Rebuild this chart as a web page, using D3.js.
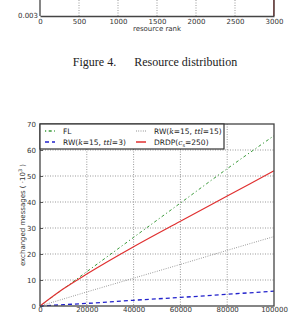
<!DOCTYPE html>
<meta charset="utf-8">
<head>
<style>
body { margin: 0; background: #fff; }
svg { display: block; }
.tick text, .lbl { font-family: "DejaVu Sans", sans-serif; font-size: 7px; fill: #333; }
.grid line { stroke: #555; stroke-width: .6; stroke-dasharray: 1,1.5; }
.caption { font-family: "Liberation Serif", serif; font-size: 12px; fill: #222; }
.leg { font-family: "DejaVu Sans", sans-serif; font-size: 7.5px; fill: #222; }
</style>
</head>
<body>
<svg width="306" height="312"></svg>
<script src="https://cdn.jsdelivr.net/npm/d3@7"></script>
<script>

// tail of previous figure
var rankTicks = [0, 500, 1000, 1500, 2000, 2500, 3000],
    rankX = [2996, 2998, 3000],
    rankY = [0.003, 0.0031, 0.0045];

// figure 5 data
var nodes = [0, 10000, 20000, 40000, 60000, 80000, 100000];
var fl = [0, 6.6, 13.2, 26.4, 39.6, 52.8, 65.5],
    rw15 = [0, 2.7, 5.4, 10.7, 16, 21.4, 26.7],
    rw3 = [0, 0.5, 1.0, 2.2, 3.3, 4.5, 5.7],
    drdp = [0, 6.6, 12.3, 22.8, 32.6, 42.3, 52];
var xTicks = [0, 20000, 40000, 60000, 80000, 100000],
    yTicks = [0, 10, 20, 30, 40, 50, 60, 70];

var svg = d3.select("svg");
var left = 40, right = 274;

// ---- previous figure remnant
var x0 = d3.scaleLinear().domain([0, 3000]).range([left, right]),
    y0 = d3.scaleLinear().domain([0.003, 0.0035]).range([16, -20]);

svg.append("g").attr("class", "grid")
  .selectAll("line").data(rankTicks.slice(1, -1)).enter().append("line")
    .attr("x1", x0).attr("x2", x0).attr("y1", 0).attr("y2", 16);

svg.append("path")
    .datum(rankX.map(function(d, i) { return [d, rankY[i]]; }))
    .attr("fill", "none").attr("stroke", "#c0302a").attr("stroke-width", 1.2)
    .attr("d", d3.line().x(function(d) { return x0(d[0]); }).y(function(d) { return y0(d[1]); }));

var ax0 = svg.append("g").attr("transform", "translate(0,16)")
    .call(d3.axisBottom(x0).tickValues(rankTicks).tickSize(0).tickPadding(3).tickFormat(d3.format("d")));
ax0.select(".domain").attr("stroke", "#444").attr("stroke-width", 1.3);
svg.append("line").attr("x1", left).attr("x2", left).attr("y1", 0).attr("y2", 16)
    .attr("stroke", "#444").attr("stroke-width", 1.3);
svg.append("line").attr("x1", right).attr("x2", right).attr("y1", 0).attr("y2", 16)
    .attr("stroke", "#444").attr("stroke-width", 1.3);
svg.append("text").attr("class", "lbl").attr("x", left - 2).attr("y", 18)
    .attr("text-anchor", "end").text("0.003");
svg.append("text").attr("class", "lbl").attr("x", (left + right) / 2).attr("y", 31)
    .attr("text-anchor", "middle").text("resource rank");

svg.append("text").attr("class", "caption").attr("x", 155).attr("y", 66)
    .attr("text-anchor", "middle").attr("xml:space", "preserve")
    .text("Figure 4.      Resource distribution");

// ---- figure 5
var yTop = 124, yBottom = 306;
var x = d3.scaleLinear().domain([0, 100000]).range([left, right]),
    y = d3.scaleLinear().domain([0, 70]).range([yBottom, yTop]);

var grid = svg.append("g").attr("class", "grid");
grid.selectAll(".gx").data(xTicks.slice(1, -1)).enter().append("line")
    .attr("x1", x).attr("x2", x).attr("y1", yTop).attr("y2", yBottom);
grid.selectAll(".gy").data(yTicks.slice(1, -1)).enter().append("line")
    .attr("y1", y).attr("y2", y).attr("x1", left).attr("x2", right);

var series = [
  { name: "FL", values: fl, color: "#3a9a3a", dash: "1.2,2.5,3,2.5", width: 1 },
  { name: "RW15", values: rw15, color: "#777", dash: "0.8,1.5", width: 0.9 },
  { name: "RW3", values: rw3, color: "#2222cc", dash: "4,3", width: 1.3 },
  { name: "DRDP", values: drdp, color: "#e03030", dash: null, width: 1.2 }
];

var line = d3.line().curve(d3.curveMonotoneX)
    .x(function(d, i) { return x(nodes[i]); })
    .y(function(d) { return y(d); });

svg.selectAll(".series").data(series).enter().append("path")
    .attr("fill", "none")
    .attr("stroke", function(d) { return d.color; })
    .attr("stroke-width", function(d) { return d.width; })
    .attr("stroke-dasharray", function(d) { return d.dash; })
    .attr("d", function(d) { return line(d.values); });

var ax = svg.append("g").attr("transform", "translate(0," + yBottom + ")")
    .call(d3.axisBottom(x).tickValues(xTicks).tickSize(0).tickPadding(1).tickFormat(d3.format("d")));
ax.select(".domain").remove();
var ay = svg.append("g").attr("transform", "translate(" + left + ",0)")
    .call(d3.axisLeft(y).tickValues(yTicks).tickSize(-3).tickPadding(4));
ay.select(".domain").remove();
ay.selectAll(".tick line").attr("stroke", "#333").attr("stroke-width", 0.8);

svg.append("rect").attr("x", left).attr("y", yTop).attr("width", right - left).attr("height", yBottom - yTop)
    .attr("fill", "none").attr("stroke", "#444").attr("stroke-width", 1.3);

var yl = svg.append("text").attr("class", "lbl")
    .attr("transform", "translate(25," + ((yTop + yBottom) / 2) + ") rotate(-90)")
    .attr("text-anchor", "middle");
yl.append("tspan").text("exchanged messages ( \u00b710");
yl.append("tspan").attr("dy", -3).attr("font-size", 5).text("3");
yl.append("tspan").attr("dy", 3).text(" )");

// legend
var leg = svg.append("g");
leg.append("rect").attr("x", left).attr("y", yTop).attr("width", 184).attr("height", 25)
    .attr("fill", "#fff").attr("stroke", "#333").attr("stroke-width", 1.2);

var legItems = [
  { s: series[0], x: 45, y: 131, parts: [["FL"]] },
  { s: series[1], x: 136, y: 131, parts: [["RW("], ["k", "i"], ["=15, "], ["ttl", "i"], ["=15)"]] },
  { s: series[2], x: 45, y: 142, parts: [["RW("], ["k", "i"], ["=15, "], ["ttl", "i"], ["=3)"]] },
  { s: series[3], x: 136, y: 142, parts: [["DRDP("], ["c", "i"], ["s", "sub"], ["=250)"]] }
];
legItems.forEach(function(it) {
  leg.append("line").attr("x1", it.x).attr("x2", it.x + 10).attr("y1", it.y).attr("y2", it.y)
      .attr("stroke", it.s.color).attr("stroke-width", it.s.width + 0.3)
      .attr("stroke-dasharray", it.s.dash);
  var t = leg.append("text").attr("class", "leg").attr("x", it.x + 18).attr("y", it.y + 3);
  it.parts.forEach(function(p) {
    var ts = t.append("tspan").text(p[0]);
    if (p[1] === "i") ts.attr("font-style", "italic").attr("font-family", "DejaVu Serif, serif");
    if (p[1] === "sub") ts.attr("font-size", 5).attr("dy", 1.5);
    if (p[0] === "=250)") ts.attr("dy", -1.5);
  });
});

</script>
</body>
